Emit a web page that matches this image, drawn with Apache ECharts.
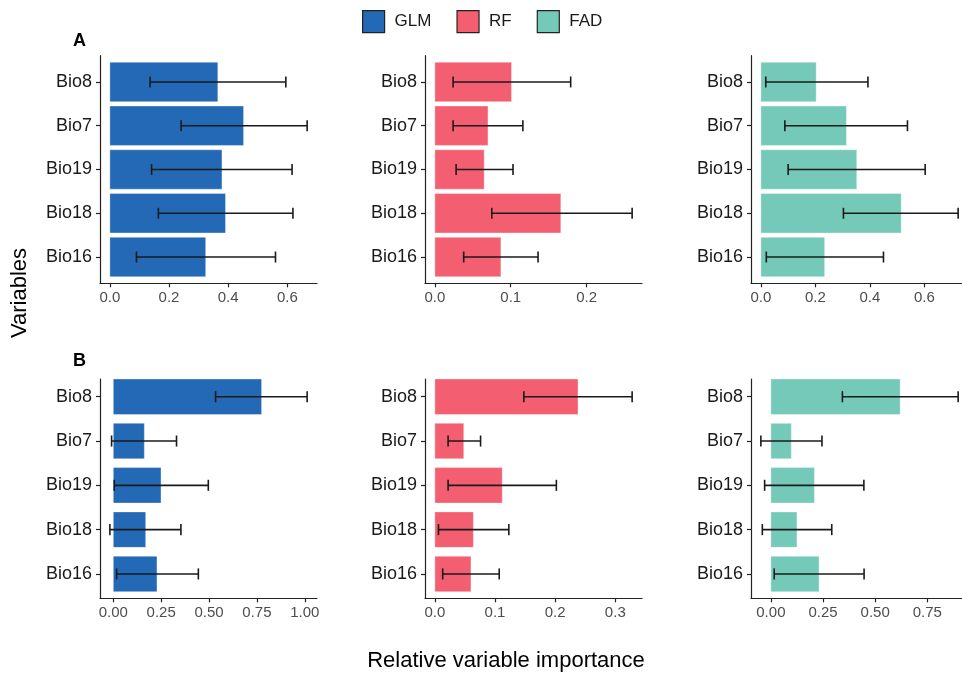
<!DOCTYPE html>
<html>
<head>
<meta charset="utf-8">
<script src="https://cdn.jsdelivr.net/npm/echarts@6/dist/echarts.min.js"></script>
<style>
html,body{margin:0;padding:0;background:#fff;overflow:hidden;width:962px;height:673px;}
#chart{width:985px;height:673px;}
</style>
</head>
<body>
<div id="chart"></div>
<script>
// ---- data ----
var categories = ['Bio8', 'Bio7', 'Bio19', 'Bio18', 'Bio16'];
var models = ['GLM', 'RF', 'FAD'];
var modelColors = ['#2369B5', '#F35E70', '#75C9B9'];

// Panel A
var glmA    = [0.365, 0.452, 0.379, 0.391, 0.324];
var glmALo  = [0.136, 0.241, 0.141, 0.164, 0.090];
var glmAHi  = [0.595, 0.667, 0.616, 0.619, 0.560];
var rfA     = [0.101, 0.070, 0.065, 0.166, 0.087];
var rfALo   = [0.024, 0.024, 0.028, 0.075, 0.038];
var rfAHi   = [0.179, 0.116, 0.103, 0.260, 0.136];
var fadA    = [0.203, 0.314, 0.352, 0.515, 0.234];
var fadALo  = [0.018, 0.088, 0.100, 0.303, 0.020];
var fadAHi  = [0.393, 0.538, 0.603, 0.724, 0.450];
// Panel B
var glmB    = [0.774, 0.162, 0.249, 0.169, 0.228];
var glmBLo  = [0.534, -0.009, 0.005, -0.018, 0.017];
var glmBHi  = [1.012, 0.330, 0.496, 0.353, 0.444];
var rfB     = [0.238, 0.048, 0.112, 0.064, 0.060];
var rfBLo   = [0.148, 0.022, 0.022, 0.006, 0.013];
var rfBHi   = [0.328, 0.076, 0.202, 0.123, 0.107];
var fadB    = [0.620, 0.098, 0.209, 0.125, 0.231];
var fadBLo  = [0.343, -0.048, -0.030, -0.041, 0.016];
var fadBHi  = [0.898, 0.245, 0.446, 0.292, 0.447];

// tick labels
var ticksA = [[0, 0.2, 0.4, 0.6], [0, 0.1, 0.2], [0, 0.2, 0.4, 0.6]];
var ticksB = [[0, 0.25, 0.5, 0.75, 1.0], [0, 0.1, 0.2, 0.3], [0, 0.25, 0.5, 0.75]];
var decimalsA = [1, 1, 1];
var decimalsB = [2, 1, 2];

// ---- layout ----
var FONT = 'Liberation Sans, Arial, Helvetica, sans-serif';
var colLeft = [100, 425, 751];
var panelW = 217;
var rows = [
  {top: 55.7, height: 227.6, ymin: 0.4, ymax: 5.6, barW: 0.9,
   vals: [glmA, rfA, fadA], lo: [glmALo, rfALo, fadALo], hi: [glmAHi, rfAHi, fadAHi],
   ticks: ticksA, dec: decimalsA},
  {top: 379, height: 219.3, ymin: 0.6, ymax: 5.55, barW: 0.8,
   vals: [glmB, rfB, fadB], lo: [glmBLo, rfBLo, fadBLo], hi: [glmBHi, rfBHi, fadBHi],
   ticks: ticksB, dec: decimalsB}
];

var grids = [], xAxes = [], yAxes = [], series = [];
var axisLineStyle = {color: '#222', width: 1.2};

rows.forEach(function (row, r) {
  for (var c = 0; c < 3; c++) {
    var idx = r * 3 + c;
    var vals = row.vals[c], lo = row.lo[c], hi = row.hi[c];
    var dmin = Math.min(0, Math.min.apply(null, lo));
    var dmax = Math.max(Math.max.apply(null, vals), Math.max.apply(null, hi));
    var pad = (dmax - dmin) * 0.05;
    grids.push({left: colLeft[c], top: row.top, width: panelW, height: row.height, containLabel: false});
    var dec = row.dec[c];
    xAxes.push({
      type: 'value', gridIndex: idx, min: dmin - pad, max: dmax + pad,
      splitLine: {show: false},
      axisLine: {show: true, onZero: false, lineStyle: axisLineStyle},
      axisTick: {show: true, length: 4, lineStyle: axisLineStyle, customValues: row.ticks[c]},
      axisLabel: {show: true, customValues: row.ticks[c], color: '#4D4D4D', fontSize: 15,
        fontFamily: FONT, margin: 7,
        formatter: (function (d) { return function (v) { return Number(v).toFixed(d); }; })(dec)}
    });
    yAxes.push({
      type: 'value', gridIndex: idx, inverse: true, min: row.ymin, max: row.ymax,
      splitLine: {show: false},
      axisLine: {show: true, onZero: false, lineStyle: axisLineStyle},
      axisTick: {show: true, length: 4, lineStyle: axisLineStyle, customValues: [1, 2, 3, 4, 5]},
      axisLabel: {show: true, customValues: [1, 2, 3, 4, 5], color: '#1A1A1A', fontSize: 18,
        fontFamily: FONT, margin: 8,
        formatter: function (v) { return categories[Math.round(v) - 1] || ''; }}
    });
    var barData = vals.map(function (v, i) { return [v, i + 1]; });
    var errData = vals.map(function (v, i) { return [lo[i], hi[i], i + 1]; });
    (function (bw, col) {
      series.push({
        type: 'custom', name: models[c], xAxisIndex: idx, yAxisIndex: idx,
        itemStyle: {color: col},
        encode: {x: 0, y: 1},
        data: barData,
        renderItem: function (params, api) {
          var p0 = api.coord([0, api.value(1)]);
          var p1 = api.coord([api.value(0), api.value(1)]);
          var h = api.size([0, bw])[1];
          return {
            type: 'rect',
            shape: {x: p0[0], y: p0[1] - h / 2, width: p1[0] - p0[0], height: h},
            style: {fill: col, stroke: 'rgba(255,255,255,0.35)', lineWidth: 1}
          };
        },
        z: 2
      });
      series.push({
        type: 'custom', name: models[c] + ' error', xAxisIndex: idx, yAxisIndex: idx,
        encode: {x: [0, 1], y: 2},
        data: errData,
        renderItem: function (params, api) {
          var a = api.coord([api.value(0), api.value(2)]);
          var b = api.coord([api.value(1), api.value(2)]);
          var cap = api.size([0, 0.25])[1] / 2;
          var st = {stroke: '#1A1A1A', lineWidth: 1.6};
          return {
            type: 'group',
            children: [
              {type: 'line', shape: {x1: a[0], y1: a[1], x2: b[0], y2: b[1]}, style: st},
              {type: 'line', shape: {x1: a[0], y1: a[1] - cap, x2: a[0], y2: a[1] + cap}, style: st},
              {type: 'line', shape: {x1: b[0], y1: b[1] - cap, x2: b[0], y2: b[1] + cap}, style: st}
            ]
          };
        },
        z: 3
      });
    })(row.barW, modelColors[c]);
  }
});

var chart = echarts.init(document.getElementById('chart'), null, {renderer: 'canvas'});
chart.setOption({
  backgroundColor: '#ffffff',
  animation: false,
  grid: grids,
  xAxis: xAxes,
  yAxis: yAxes,
  legend: {
    left: 362, top: 10, padding: 0,
    itemWidth: 22, itemHeight: 22, itemGap: 25,
    selectedMode: false,
    textStyle: {fontSize: 17, color: '#1A1A1A', fontFamily: FONT, padding: [0, 0, 0, 5]},
    data: models.map(function (m, i) {
      return {name: m, icon: 'rect', itemStyle: {color: modelColors[i], borderColor: '#222', borderWidth: 1.2}};
    })
  },
  graphic: [
    {type: 'text', left: 73, top: 32, style: {text: 'A', font: 'bold 18px ' + FONT, fill: '#000'}},
    {type: 'text', left: 73, top: 352, style: {text: 'B', font: 'bold 18px ' + FONT, fill: '#000'}},
    {type: 'text', x: 506, y: 661, style: {text: 'Relative variable importance', font: '22px ' + FONT,
      fill: '#000', align: 'center', verticalAlign: 'middle'}},
    {type: 'text', x: 20, y: 293, rotation: Math.PI / 2, style: {text: 'Variables', font: '22px ' + FONT,
      fill: '#000', align: 'center', verticalAlign: 'middle'}}
  ],
  series: series
});
</script>
</body>
</html>
